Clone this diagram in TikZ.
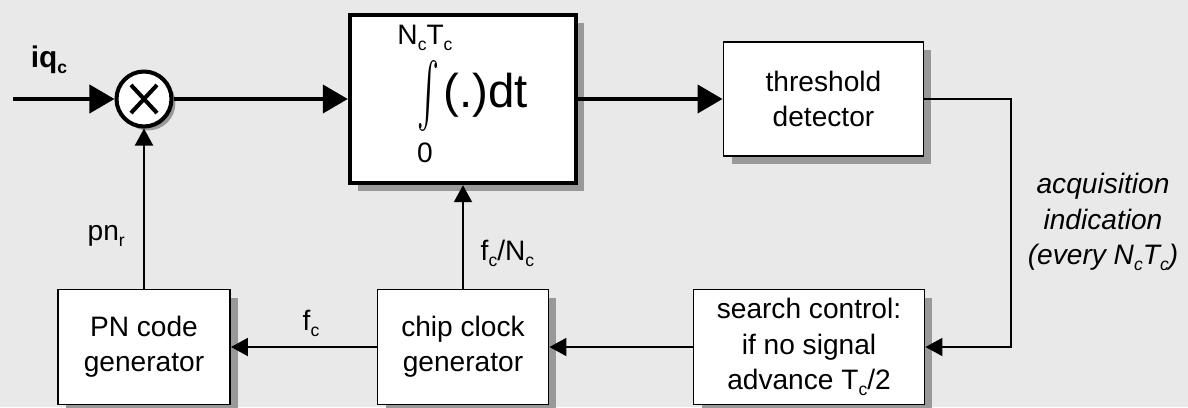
\documentclass[tikz,border=0pt]{standalone}
\usepackage{fontspec}
\setmainfont{Liberation Sans}
\usetikzlibrary{arrows.meta,positioning,shadows}
\definecolor{paper}{HTML}{E9E9E9}
\definecolor{shade}{HTML}{999999}
\newcommand{\lowsub}[1]{\raisebox{-0.4ex}{\fontsize{10}{10}\selectfont #1}}
\tikzset{block/.style={rectangle,draw,fill=white,line width=1.1pt,align=center,font=\fontsize{16}{20}\selectfont,drop shadow={shadow xshift=0.16cm,shadow yshift=-0.16cm,fill=shade,opacity=1}},bigsig/.style={line width=2.3pt,-{Triangle[length=0.5cm,width=0.56cm]}},sig/.style={line width=1.1pt,-{Triangle[length=0.34cm,width=0.36cm]}},lbl/.style={font=\fontsize{16}{20}\selectfont,inner sep=1pt}}

\begin{document}
\begin{tikzpicture}[x=0.02cm,y=0.02cm]
\fill[paper] (0,0) rectangle (1188,407);
\useasboundingbox (0,0) rectangle (1188,407);
\coordinate (in) at (13,308);
\node[circle,draw,fill=white,line width=2.3pt,minimum size=1.1cm,inner sep=0pt,drop shadow={shadow xshift=0.08cm,shadow yshift=-0.08cm,fill=shade,opacity=1}] (mult) at (144,308) {};
\draw[line width=2.3pt] ([shift={(-13,-14)}]mult.center)--([shift={(13,14)}]mult.center);
\draw[line width=2.3pt] ([shift={(-13,14)}]mult.center)--([shift={(13,-14)}]mult.center);
\node[lbl,font=\bfseries\fontsize{17}{20}\selectfont] (iq) at (49,347) {iq\lowsub{c}};
\node[block,line width=2.5pt,minimum width=4.52cm,minimum height=3.36cm] (integ) at (463,308) {};
\node[lbl,inner sep=0pt] (ulim) at (425,369) {N\lowsub{c}T\lowsub{c}};
\node[inner sep=0pt] (intsign) at (428,311) {\resizebox*{0.44cm}{1.42cm}{$\int$}};
\node[inner sep=0pt,anchor=west,font=\fontsize{27}{30}\selectfont] (integrand) at (443,312) {(.)dt};
\node[lbl,inner sep=0pt] (llim) at (425,254) {0};
\node[block,minimum width=4cm,minimum height=2.28cm] (thr) at (823.5,308) {threshold\\detector};
\node[block,minimum width=4.62cm,minimum height=2.3cm] (search) at (809,60) {search control:\\if no signal\\advance T\lowsub{c}/2};
\node[block,minimum width=3.42cm,minimum height=2.3cm] (chip) at (463,60) {chip clock\\generator};
\node[block,minimum width=3.44cm,minimum height=2.3cm] (pn) at (144,60) {PN code\\generator};
\coordinate (turn) at (1011,0);
\node[lbl,font=\itshape\fontsize{16}{20}\selectfont,align=center] (acq) at (1103,185) {acquisition\\indication\\(every N\lowsub{c}T\lowsub{c})};
\draw[bigsig] (in)--(mult);
\draw[bigsig] (mult)--(integ);
\draw[bigsig] (integ)--(thr);
\draw[sig] (thr.east)-|(turn|-search.east)--(search.east);
\draw[sig] (search)--(chip);
\draw[sig] (chip)--node[lbl,pos=0.45,above=0.15cm] {f\lowsub{c}}(pn);
\draw[sig] (chip)--node[lbl,pos=0.34,right=0.3cm] {f\lowsub{c}/N\lowsub{c}}(integ);
\draw[sig] (pn)--node[lbl,pos=0.33,left=0.33cm] {pn\lowsub{r}}(mult);
\end{tikzpicture}
\end{document}
